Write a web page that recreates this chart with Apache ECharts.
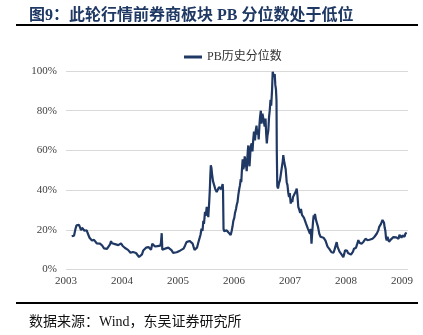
<!DOCTYPE html>
<html><head><meta charset="utf-8">
<script src="https://cdn.jsdelivr.net/npm/echarts@6/dist/echarts.min.js"></script>
<style>html,body{margin:0;padding:0;background:#fff}#c{width:423px;height:335px}</style>
</head><body><div id="c"></div>
<script>
var baseYear = 2003;
var yearTicks = ['2003','2004','2005','2006','2007','2008','2009'];
var pctTicks = [0,20,40,60,80,100];
var seriesName = 'PB历史分位数';
// time positions, in years since start of 2003
var yearsSince = [0.102,0.125,0.143,0.170,0.188,0.214,0.232,0.25,0.268,0.286,0.309,0.330,0.348,0.370,0.384,0.402,0.420,0.438,0.464,0.482,0.5,0.527,0.548,0.571,0.607,0.625,0.643,0.661,0.679,0.705,0.732,0.759,0.786,0.804,0.821,0.848,0.875,0.902,0.934,0.955,0.982,
1.009,1.027,1.054,1.084,1.107,1.130,1.152,1.170,1.196,1.223,1.25,1.277,1.304,1.321,1.339,1.357,1.380,1.402,1.429,1.455,1.473,1.5,1.518,1.541,1.563,1.589,1.616,1.634,1.661,1.684,1.696,1.709,1.720,1.741,1.768,1.795,1.827,1.857,1.888,1.911,1.938,1.977,
2.0,2.036,2.071,2.098,2.125,2.152,2.179,2.205,2.232,2.262,2.277,2.295,2.321,2.339,2.363,2.384,2.402,2.420,2.438,2.452,2.464,2.482,2.495,2.513,2.527,2.541,2.559,2.568,2.577,2.586,2.598,2.607,2.625,2.643,2.655,2.666,2.691,2.705,2.720,2.732,2.75,2.768,2.780,2.798,2.804,2.813,2.827,2.848,2.866,2.880,2.902,2.920,2.941,2.959,2.973,2.988,
3.005,3.018,3.036,3.048,3.063,3.077,3.093,3.107,3.120,3.130,3.143,3.155,3.166,3.179,3.191,3.202,3.214,3.227,3.238,3.245,3.255,3.268,3.277,3.289,3.298,3.316,3.330,3.345,3.357,3.375,3.388,3.402,3.416,3.429,3.441,3.455,3.464,3.479,3.491,3.509,3.523,3.536,3.548,3.563,3.575,3.586,3.598,3.613,3.625,3.638,3.652,3.664,3.679,3.691,3.702,3.714,3.727,3.738,3.75,3.759,3.764,3.773,3.786,3.804,3.821,3.839,3.857,3.870,3.880,3.898,3.911,3.923,3.941,3.955,3.970,3.982,3.996,
4.013,4.027,4.041,4.054,4.071,4.089,4.107,4.120,4.134,4.148,4.166,4.182,4.196,4.214,4.232,4.25,4.268,4.286,4.304,4.321,4.339,4.357,4.371,4.384,4.398,4.411,4.423,4.438,4.446,4.464,4.488,4.5,4.523,4.545,4.566,4.580,4.598,4.616,4.634,4.655,4.670,4.688,4.702,4.720,4.741,4.759,4.777,4.795,4.813,4.834,4.848,4.866,4.884,4.902,4.923,4.938,4.952,4.970,4.982,
5.0,5.018,5.036,5.054,5.071,5.089,5.107,5.125,5.143,5.161,5.179,5.196,5.220,5.241,5.259,5.277,5.295,5.313,5.330,5.348,5.370,5.384,5.402,5.420,5.438,5.455,5.473,5.491,5.509,5.527,5.548,5.563,5.577,5.593,5.607,5.625,5.638,5.652,5.666,5.679,5.691,5.702,5.714,5.727,5.741,5.755,5.768,5.786,5.804,5.821,5.845,5.863,5.880,5.898,5.920,5.938,5.955,5.973,5.991,
6.009,6.027,6.045,6.063,6.084];
// PB percentile values (%)
var pbPercentile = [16.8,17.5,17.0,20.5,22.3,21.6,22.5,21.2,19.8,21.0,20.5,19.5,20.4,19.8,18.5,17.5,16.0,15.0,14.6,14.2,14.9,14.4,13.2,13.6,13.0,13.4,12.2,11.8,10.6,10.2,10.4,11.4,12.6,14.3,13.2,13.6,12.8,13.4,12.3,13.0,13.2,
12.0,11.2,10.8,10.3,9.9,9.4,8.4,7.9,8.8,8.6,8.3,7.6,6.3,5.4,6.6,7.6,9.6,10.4,11.0,10.8,11.3,10.6,9.9,13.0,12.2,11.6,12.3,11.8,10.8,12.0,13.6,18.3,10.0,10.2,10.5,10.8,11.0,10.3,9.6,8.4,8.3,8.7,
9.0,9.5,10.0,10.5,12.0,13.8,14.8,14.4,14.0,13.0,11.5,9.9,10.2,11.0,13.6,14.5,17.5,20.6,19.5,24.5,23.0,29.0,27.0,31.5,30.0,26.4,34.8,40.0,47.0,52.5,51.0,48.3,44.5,43.6,44.1,40.5,39.0,38.5,40.0,41.5,42.4,40.5,39.9,43.0,40.0,20.5,19.2,18.8,19.8,19.5,18.6,18.0,17.4,19.5,21.5,24.5,
26.0,28.5,30.5,32.5,34.0,37.5,40.5,42.5,45.5,44.0,51.0,55.5,50.5,52.0,57.0,55.0,53.0,49.5,56.0,59.2,62.5,54.5,52.0,57.5,62.0,63.5,59.5,66.0,69.5,65.0,70.0,72.5,68.0,70.5,65.5,73.0,76.5,80.0,73.5,78.5,79.0,74.0,72.0,76.0,68.0,63.5,67.5,70.0,76.5,80.0,85.5,82.5,90.0,99.6,100,97.0,98.5,93.0,90.5,85.0,60.0,42.0,40.8,43.5,45.0,48.5,52.0,54.5,57.6,54.0,53.4,50.5,44.0,42.5,38.5,36.5,38.5,
33.2,35.5,34.0,36.5,36.0,37.5,39.5,40.8,37.0,31.5,30.0,28.5,30.5,27.5,28.0,26.0,26.5,23.1,24.0,20.5,19.5,18.0,20.5,13.0,19.0,24.0,27.3,25.5,28.0,25.0,25.6,21.5,18.0,16.5,15.5,17.0,16.0,16.5,14.5,13.8,11.5,12.5,10.4,9.6,8.7,9.5,8.5,10.0,9.0,13.8,11.5,11.0,9.0,8.5,7.5,8.5,6.2,8.0,9.6,
10.4,9.5,8.3,9.0,8.0,7.5,8.5,9.0,10.5,11.3,11.0,12.5,14.8,13.5,12.5,13.0,12.8,14.0,14.5,15.5,15.8,14.8,14.2,15.0,14.6,15.2,15.5,15.8,16.5,17.2,18.0,19.0,19.7,21.5,22.2,23.0,23.9,25.0,25.6,23.5,21.0,19.7,16.0,14.6,16.5,15.2,14.0,13.8,15.2,14.5,16.3,15.5,16.5,16.2,17.0,15.5,17.5,18.0,16.0,
17.2,17.8,16.5,18.2,18.5];

var lineData = yearsSince.map(function(t, i){ return [baseYear + t, pbPercentile[i]]; });
var lastTick = baseYear + yearTicks.length - 1;

var chart = echarts.init(document.getElementById('c'), null, {renderer:'canvas'});
chart.setOption({
  animation:false,
  backgroundColor:'#fff',
  title:[{
    text:'图9：此轮行情前券商板块 PB 分位数处于低位',
    left:24, top:3,
    textStyle:{fontSize:16,fontWeight:'bold',color:'#1f3864',fontFamily:'Liberation Serif, "Noto Sans CJK SC", serif'}
  },{
    text:'数据来源：Wind，东吴证券研究所',
    left:24, top:310,
    textStyle:{fontSize:14,fontWeight:'normal',color:'#111',fontFamily:'Liberation Serif, "Noto Sans CJK SC", serif'}
  }],
  graphic:[
    {type:'rect',shape:{x:16,y:24,width:402,height:2},style:{fill:'#000'}},
    {type:'rect',shape:{x:16,y:302,width:402,height:2},style:{fill:'#000'}}
  ],
  legend:{
    data:[seriesName], left:179, top:46,
    itemWidth:18, itemHeight:3, itemGap:4,
    icon:'rect',
    textStyle:{fontSize:12,color:'#333',fontFamily:'Liberation Serif, "Noto Sans CJK SC", serif'}
  },
  grid:{left:66,right:15,top:71,bottom:65.5,containLabel:false},
  xAxis:{
    type:'value', min:baseYear, max:lastTick + 6/56, interval:1,
    axisLine:{show:false}, axisTick:{show:false}, splitLine:{show:false},
    axisLabel:{margin:6,fontSize:11,color:'#404040',fontFamily:'Liberation Serif, serif',
      formatter:function(v){ var i = Math.round(v - baseYear); return (Math.abs(v - baseYear - i) < 1e-6 && yearTicks[i]) ? yearTicks[i] : ''; },
      showMaxLabel:false}
  },
  yAxis:{
    type:'value', min:pctTicks[0], max:pctTicks[pctTicks.length-1], interval:20,
    axisLine:{show:false}, axisTick:{show:false},
    splitLine:{lineStyle:{color:'#d9d9d9',width:1}},
    axisLabel:{margin:9,fontSize:11,color:'#404040',fontFamily:'Liberation Serif, serif',formatter:'{value}%'}
  },
  series:[{
    name:seriesName, type:'line', data:lineData, showSymbol:false, symbol:'none',
    lineStyle:{color:'#203864',width:2.2}, itemStyle:{color:'#203864'}
  }]
});
</script></body></html>
